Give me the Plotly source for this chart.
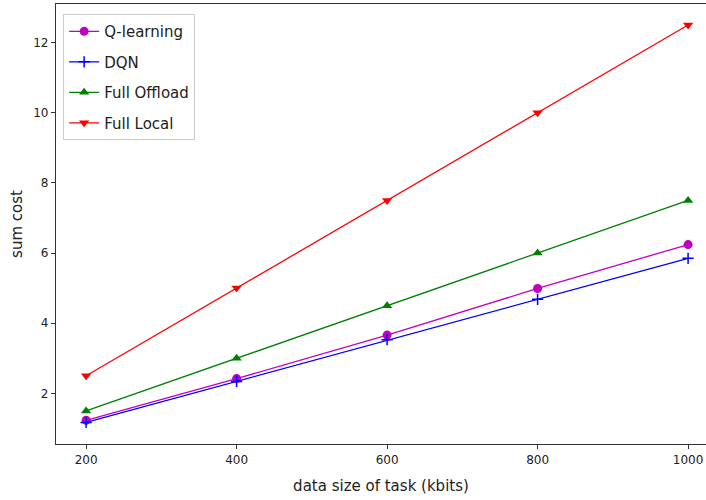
import plotly.graph_objects as go

# Task data sizes (kbits) and the sum cost of each strategy
data_size = [200, 400, 600, 800, 1000]
q_learning = [1.23, 2.42, 3.66, 4.99, 6.24]
dqn = [1.17, 2.34, 3.53, 4.68, 5.85]
full_offload = [1.5, 3.0, 4.5, 6.0, 7.5]
full_local = [2.5, 5.0, 7.5, 10.0, 12.5]

x_ticks = [200, 400, 600, 800, 1000]
y_ticks = [2, 4, 6, 8, 10, 12]

series = [
    ("Q-learning", q_learning, "#BF00BF", dict(symbol="circle", size=9)),
    ("DQN", dqn, "#0000FF", dict(symbol="cross-thin", size=8, line=dict(width=1.5, color="#0000FF"))),
    ("Full Offload", full_offload, "#008000", dict(symbol="triangle-up", size=9)),
    ("Full Local", full_local, "#FF0000", dict(symbol="triangle-down", size=9)),
]

fig = go.Figure()
for name, vals, color, marker in series:
    fig.add_trace(go.Scatter(
        x=data_size, y=vals, name=name, mode="lines+markers", legendgroup=name,
        line=dict(color=color, width=1.3),
        marker=dict(color=color, **marker),
    ))

axis_style = dict(
    showgrid=False, zeroline=False, showline=True, linecolor="#333333", linewidth=1.2,
    ticks="outside", ticklen=4, tickcolor="#333333",
    tickfont=dict(family="DejaVu Sans", size=12, color="#222222"),
)

fig.update_layout(
    width=706, height=500,
    margin=dict(l=56, r=0, t=4, b=56),
    paper_bgcolor="white", plot_bgcolor="white",
    showlegend=True,
    legend=dict(
        x=0.011, y=0.977, xanchor="left", yanchor="top",
        bgcolor="rgba(255,255,255,0.9)", bordercolor="#cccccc", borderwidth=1,
        font=dict(family="DejaVu Sans", size=15, color="#222222"),
        tracegroupgap=8,
    ),
    xaxis=dict(
        range=[160, 1023.8], tickvals=x_ticks, mirror=True,
        title=dict(text="data size of task (kbits)", font=dict(family="DejaVu Sans", size=15, color="#222222"), standoff=14),
        **axis_style,
    ),
    yaxis=dict(
        range=[0.556, 13.1], tickvals=y_ticks, mirror=False,
        title=dict(text="sum cost", font=dict(family="DejaVu Sans", size=15, color="#222222"), standoff=6),
        **axis_style,
    ),
)

fig.write_html("out.html")
